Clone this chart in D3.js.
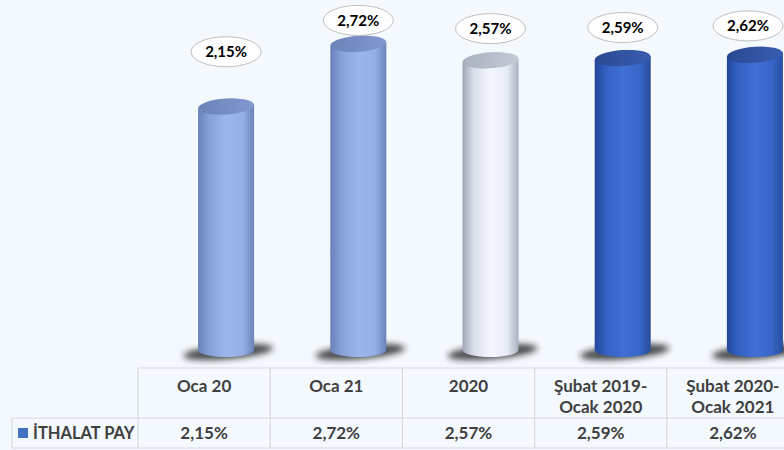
<!DOCTYPE html>
<html><head><meta charset="utf-8">
<script src="https://cdn.jsdelivr.net/npm/d3@7"></script>
<style>
html,body{margin:0;padding:0;background:#F4F9FE;}
svg{display:block;}
text{font-family:Lato,"Noto Sans",sans-serif;}
</style></head>
<body>
<script>
const categories = ["Oca 20", "Oca 21", "2020", "Şubat 2019-\nOcak 2020", "Şubat 2020-\nOcak 2021"];
const values = [2.15, 2.72, 2.57, 2.59, 2.62];
const seriesName = "İTHALAT PAY";
const barStyle = ["light", "light", "white", "dark", "dark"];

const W = 784, H = 450;
const svg = d3.select("body").append("svg").attr("width", W).attr("height", H);
svg.append("rect").attr("width", W).attr("height", H).attr("fill", "#F4F9FE");

const fmt = d3.formatLocale({decimal: ",", thousands: ".", grouping: [3], currency: ["", ""]}).format(".2f");
const pct = v => fmt(v) + "%";

const x = d3.scaleBand().domain(categories).range([138, 799]).padding(0);
const y = d3.scaleLinear().domain([0, 3]).range([343, 13]);
const bw = x.bandwidth();
const rx = 28, ry = 7, tilt = -4;
const cxOf = c => x(c) + bw / 2 + 22;

const defs = svg.append("defs");
const styles = {
  light: {stops: ["#6981B6", "#86A1D6", "#9AB6EB", "#93AFE4", "#6A83B8"], top: ["#6A83B9", "#8199CF"]},
  white: {stops: ["#9EA6B5", "#D8DEEA", "#F3F6FD", "#E6EBF5", "#A9B1C0"], top: ["#A9B1BF", "#C5CBD6"]},
  dark:  {stops: ["#23479A", "#3360C2", "#3F70D6", "#3766C8", "#274C9E"], top: ["#2A4992", "#3A5DB0"]}
};
Object.entries(styles).forEach(([k, s]) => {
  const g = defs.append("linearGradient").attr("id", "body-" + k).attr("x1", 0).attr("x2", 1).attr("y1", 0).attr("y2", 0);
  [0, 0.2, 0.5, 0.8, 1].forEach((o, i) => g.append("stop").attr("offset", o).attr("stop-color", s.stops[i]));
  const t = defs.append("linearGradient").attr("id", "top-" + k).attr("x1", 0).attr("x2", 1).attr("y1", 0).attr("y2", 0);
  t.append("stop").attr("offset", 0).attr("stop-color", s.top[0]);
  t.append("stop").attr("offset", 1).attr("stop-color", s.top[1]);
});
const blur = defs.append("filter").attr("id", "blur").attr("x", "-50%").attr("y", "-100%").attr("width", "200%").attr("height", "300%");
blur.append("feGaussianBlur").attr("stdDeviation", 3);

// bars
const data = categories.map((c, i) => ({c, v: values[i], s: barStyle[i]}));
const bars = svg.append("g").selectAll("g").data(data).join("g");
const baseY = y(0) + 7;

bars.append("ellipse")
  .attr("cx", d => cxOf(d.c) + 2).attr("cy", baseY + 2)
  .attr("rx", 45).attr("ry", 7)
  .attr("transform", d => `rotate(-5 ${cxOf(d.c) + 2} ${baseY + 2})`)
  .attr("fill", "#1a1a1a").attr("opacity", 0.8).attr("filter", "url(#blur)");

bars.append("path")
  .attr("d", d => {
    const cx = cxOf(d.c), ty = y(d.v);
    return `M${cx - rx},${ty + 2} L${cx - rx},${baseY} A${rx},${ry} 0 0 0 ${cx + rx},${baseY} L${cx + rx},${ty - 2} Z`;
  })
  .attr("fill", d => `url(#body-${d.s})`);

bars.append("ellipse")
  .attr("cx", d => cxOf(d.c)).attr("cy", d => y(d.v))
  .attr("rx", rx).attr("ry", ry + 1)
  .attr("transform", d => `rotate(${tilt} ${cxOf(d.c)} ${y(d.v)})`)
  .attr("fill", d => `url(#top-${d.s})`);

// value labels
const labels = svg.append("g").selectAll("g").data(data).join("g")
  .attr("transform", d => {
    const lx = Math.min(cxOf(d.c), W - 36);
    const ly = (y(d.v) - 3) / 2;
    return `translate(${lx},${ly})`;
  });
labels.append("ellipse").attr("rx", 35).attr("ry", 15)
  .attr("fill", "#FFFFFF").attr("stroke", "#BFBFBF").attr("stroke-width", 1);
labels.append("text").attr("text-anchor", "middle").attr("dy", "0.35em")
  .attr("font-size", 15).attr("font-weight", 700).attr("fill", "#000")
  .text(d => pct(d.v));

// table
const gridColor = "#D6DADF";
const tg = svg.append("g").attr("stroke", gridColor).attr("stroke-width", 1.2).attr("fill", "none");
const hTop = 368, hMid = 418, hBot = 448, legendLeft = 12;
tg.append("line").attr("x1", x.range()[0]).attr("x2", W).attr("y1", hTop).attr("y2", hTop);
tg.append("line").attr("x1", legendLeft).attr("x2", W).attr("y1", hMid).attr("y2", hMid);
tg.append("line").attr("x1", legendLeft).attr("x2", W).attr("y1", hBot).attr("y2", hBot);
tg.append("line").attr("x1", legendLeft).attr("x2", legendLeft).attr("y1", hMid).attr("y2", hBot);
categories.forEach(c => {
  tg.append("line").attr("x1", x(c)).attr("x2", x(c)).attr("y1", hTop).attr("y2", hBot);
});

const hdr = svg.append("g").selectAll("text").data(categories).join("text")
  .attr("text-anchor", "middle").attr("font-size", 17).attr("font-weight", 700).attr("fill", "#404040")
  .attr("x", c => x(c) + bw / 2).attr("y", 392);
hdr.selectAll("tspan").data(c => c.split("\n").map(t => ({t, c}))).join("tspan")
  .attr("x", d => x(d.c) + bw / 2).attr("dy", (d, i) => i === 0 ? 0 : 21).text(d => d.t);

svg.append("g").selectAll("text").data(data).join("text")
  .attr("text-anchor", "middle").attr("font-size", 17).attr("font-weight", 700).attr("fill", "#404040")
  .attr("x", d => x(d.c) + bw / 2).attr("y", 439).text(d => pct(d.v));

svg.append("rect").attr("x", 18).attr("y", 428).attr("width", 10).attr("height", 10).attr("fill", "#4472C4");
svg.append("text").attr("x", 33).attr("y", 439).attr("font-size", 16.5).attr("font-weight", 700)
  .attr("fill", "#404040").text(seriesName);
</script>
</body></html>
